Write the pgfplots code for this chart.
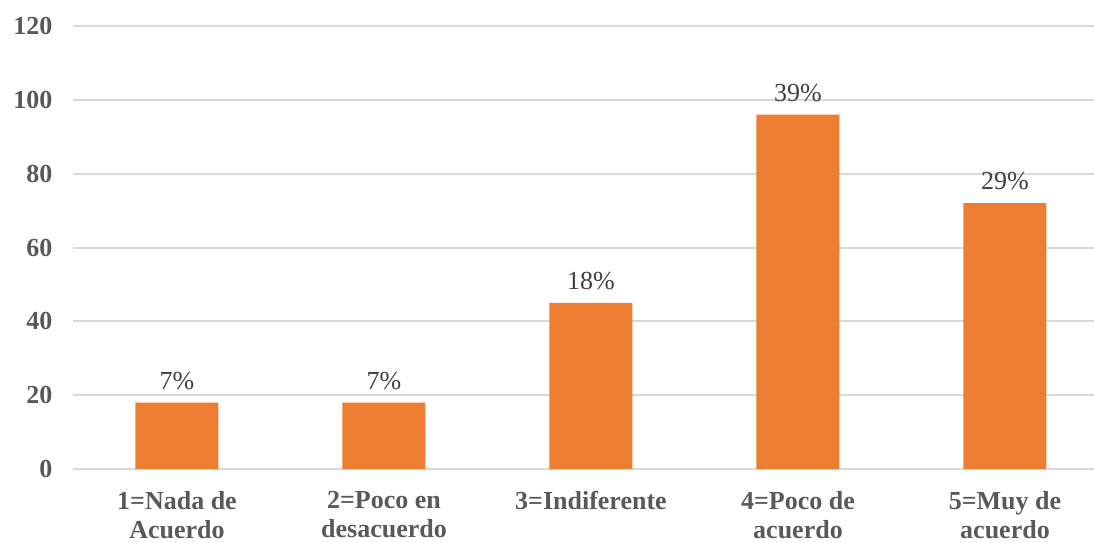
\documentclass[border=0pt]{standalone}
\usepackage{pgfplots}
\pgfplotsset{compat=1.18}
\usepackage{fontspec}
\setmainfont{Liberation Serif}
\definecolor{barorange}{HTML}{ED7D31}
\definecolor{gridgray}{HTML}{D9D9D9}
\definecolor{ticktext}{HTML}{595959}
\definecolor{labeltext}{HTML}{404040}
\begin{document}
\begin{tikzpicture}
\begin{axis}[
  scale only axis,
  width=510.25pt, height=221.5pt,
  ybar, bar width=41.5pt,
  xmin=-0.5, xmax=4.43,
  ymin=0, ymax=120,
  ytick={0,20,...,120},
  xtick=data,
  xticklabels={{1=Nada de\\Acuerdo},{2=Poco en\\desacuerdo},{3=Indiferente},{4=Poco de\\acuerdo},{5=Muy de\\acuerdo}},
  axis line style={draw=none},
  ymajorgrids,
  grid style={gridgray, line width=1pt},
  major tick style={draw=none},
  /pgf/number format/assume math mode=true,
  x tick label style={align=center, font=\fontsize{13}{14.6}\selectfont\bfseries, text=ticktext, yshift=-3.3pt},
  y tick label style={font=\fontsize{13}{15}\selectfont\bfseries, text=ticktext, xshift=-7pt},
  point meta=explicit symbolic,
  nodes near coords,
  nodes near coords style={font=\fontsize{13}{15}\selectfont, text=labeltext, yshift=3pt},
]
\addplot[fill=barorange, draw=none] coordinates {
  (0,18) [7\%]
  (1,18) [7\%]
  (2,45) [18\%]
  (3,96) [39\%]
  (4,72) [29\%]
};
\end{axis}
\pgfresetboundingbox
\useasboundingbox (-36.75pt,-36.5pt) rectangle (510.25pt,234.5pt);
\end{tikzpicture}
\end{document}
